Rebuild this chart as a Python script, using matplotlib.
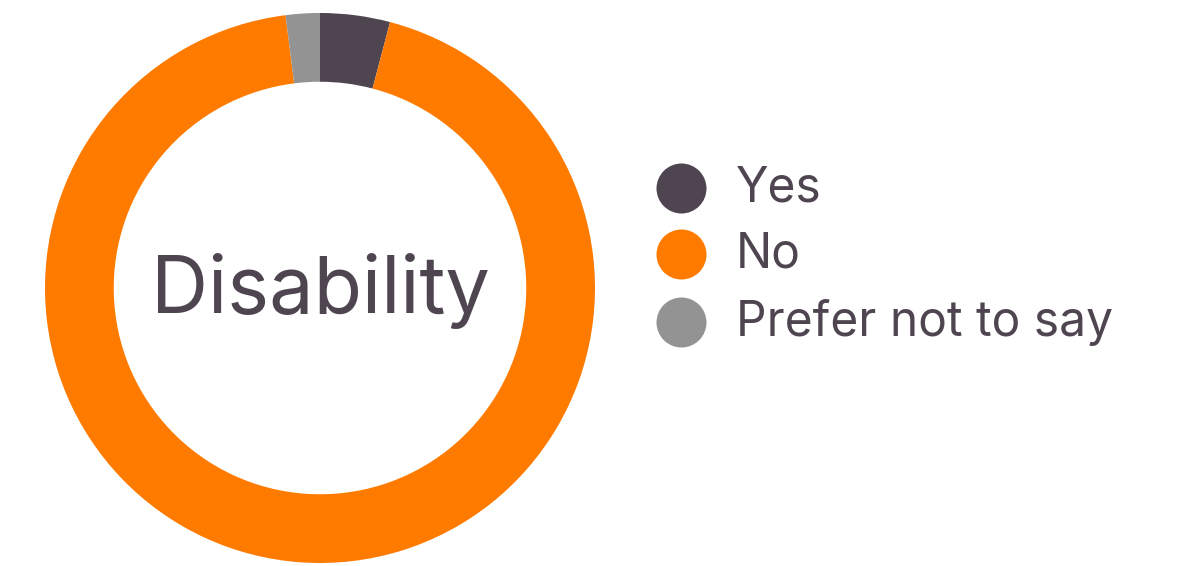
import matplotlib.pyplot as plt

labels = ['Yes', 'No', 'Prefer not to say']
values = [4.1, 93.9, 2.0]
colors = ['#4e4550', '#ff7b00', '#939393']
center_label = 'Disability'
text_color = '#4e4550'

plt.rcParams['font.family'] = ['Inter', 'DejaVu Sans']

W, H = 1182, 566
fig = plt.figure(figsize=(W / 100, H / 100), dpi=100)

# donut axes placed in pixel terms
ax = fig.add_axes([45 / W, 3 / H, 550 / W, 550 / H])
ax.pie(values, colors=colors, startangle=90, counterclock=False, radius=1,
       wedgeprops=dict(width=0.25, linewidth=0))
ax.set_xlim(-1, 1)
ax.set_ylim(-1, 1)
ax.set_aspect('equal')
ax.axis('off')
ax.text(0, -0.01, center_label, ha='center', va='center', fontsize=57,
        color=text_color)

# legend drawn on an overlay axes in pixel coordinates
lax = fig.add_axes([0, 0, 1, 1])
lax.set_xlim(0, W)
lax.set_ylim(H, 0)
lax.axis('off')
ys = [188, 254, 322]
for lab, col, y in zip(labels, colors, ys):
    lax.scatter([681], [y], s=36 ** 2, color=col, linewidths=0)
    lax.text(736, y + 1, lab, ha='left', va='center', fontsize=34.5, color=text_color)

fig.savefig('out.png', dpi=100)
